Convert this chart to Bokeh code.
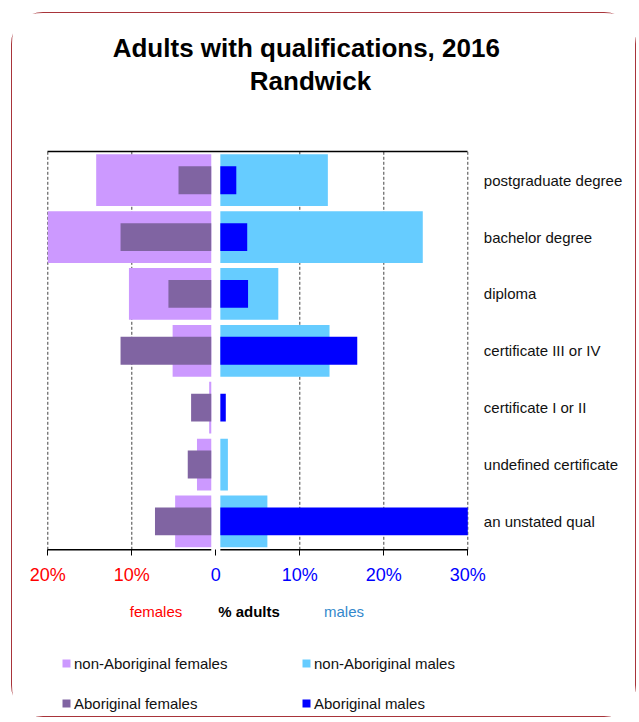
from bokeh.plotting import figure
from bokeh.models import (Range1d, LinearAxis, FixedTicker, Label,
                          ColumnDataSource, Legend, LegendItem)
from bokeh.embed import file_html
from bokeh.resources import INLINE

# ---- data (percent of adults) ----
categories = ["postgraduate degree", "bachelor degree", "diploma",
              "certificate III or IV", "certificate I or II",
              "undefined certificate", "an unstated qual"]
nonab_females = [13.7, 20.5, 9.8, 4.6, 0.25, 1.7, 4.3]
ab_females = [3.9, 10.8, 5.1, 10.8, 2.4, 2.8, 6.7]
nonab_males = [12.8, 24.1, 6.9, 13.0, 0.0, 0.9, 5.6]
ab_males = [1.9, 3.2, 3.3, 16.3, 0.65, 0.0, 31.0]

female_ticks = [-20, -10]
female_tick_labels = ["20%", "10%"]
male_ticks = [0, 10, 20, 30]
male_tick_labels = ["0", "10%", "20%", "30%"]
grid_values = [-20, -10, 10, 20, 30]
X_MIN, X_MAX = -20, 30

FONT = "Liberation Sans"
GAP = 0.54  # visual gap each side of zero
n = len(categories)
ypos = list(range(n))[::-1]

# ---- canvas geometry (pixels) ----
W, H = 625, 705
PX_PER_PCT = 8.4
CHART_LEFT = 35.3
ROW_PX = 56.86
CHART_TOP = 138.3
CHART_BOTTOM = 536.3
DY = H - 700  # shift for bottom-anchored screen positions
x0 = X_MIN - CHART_LEFT / PX_PER_PCT
y0 = -0.5 - (H - CHART_BOTTOM) / ROW_PX
y1 = (n - 0.5) + CHART_TOP / ROW_PX

p = figure(width=W, height=H,
           x_range=Range1d(x0, x0 + W / PX_PER_PCT), y_range=Range1d(y0, y1),
           output_backend="svg", toolbar_location=None,
           x_axis_location=None, y_axis_location=None,
           min_border=0,
           styles={"margin-left": "11px", "margin-top": "12px",
                   "border": "1px solid #A8343A", "border-radius": "32px"})
p.outline_line_color = None
p.xgrid.visible = False
p.ygrid.visible = False

# dashed vertical gridlines within the chart band
p.segment(x0=grid_values, y0=[-0.5] * len(grid_values),
          x1=grid_values, y1=[n - 0.5] * len(grid_values),
          line_color="#444444", line_dash="3 2", line_width=1)

src = ColumnDataSource(dict(
    y=ypos,
    nf_left=[max(-(v + GAP), X_MIN) for v in nonab_females],
    af_left=[-(v + GAP) for v in ab_females],
    f_right=[-GAP] * n,
    m_left=[GAP] * n,
    nm_right=[GAP + v for v in nonab_males],
    am_right=[min(GAP + v, X_MAX) for v in ab_males],
))

r_nf = p.hbar(y="y", left="nf_left", right="f_right", height=0.91,
              fill_color="#CC99FF", line_color=None, source=src)
r_nm = p.hbar(y="y", left="m_left", right="nm_right", height=0.91,
              fill_color="#66CCFF", line_color=None, source=src)
r_af = p.hbar(y="y", left="af_left", right="f_right", height=0.49,
              fill_color="#8064A2", line_color=None, source=src)
r_am = p.hbar(y="y", left="m_left", right="am_right", height=0.49,
              fill_color="#0000FF", line_color=None, source=src)

# broken bottom axis line
p.segment(x0=[X_MIN, GAP], y0=[-0.5, -0.5], x1=[-GAP, X_MAX], y1=[-0.5, -0.5],
          line_color="black", line_width=1.5)

# top line
top_axis = LinearAxis(ticker=FixedTicker(ticks=[]), fixed_location=n - 0.5,
                      bounds=(X_MIN, X_MAX), axis_line_color="black",
                      axis_line_width=1.5,
                      major_tick_line_color=None, minor_tick_line_color=None)
p.add_layout(top_axis, "above")

# bottom ticks + labels (red females side, blue males side)
for ticks, labels, color in [(female_ticks, female_tick_labels, "#FF0000"),
                             (male_ticks, male_tick_labels, "#0000FF")]:
    ax = LinearAxis(ticker=FixedTicker(ticks=ticks), fixed_location=-0.5,
                    bounds=(X_MIN, X_MAX),
                    major_label_overrides=dict(zip(ticks, labels)),
                    axis_line_color=None, major_tick_out=6, major_tick_in=0,
                    major_tick_line_color="black", minor_tick_line_color=None,
                    major_label_standoff=9,
                    major_label_text_font=FONT, major_label_text_font_size="18px",
                    major_label_text_color=color)
    p.add_layout(ax, "below")

# right category axis
right_axis = LinearAxis(ticker=FixedTicker(ticks=ypos), fixed_location=X_MAX,
                        major_label_overrides=dict(zip(ypos, categories)),
                        axis_line_color=None, major_tick_line_color=None,
                        major_tick_out=0, major_tick_in=0,
                        minor_tick_line_color=None, major_label_standoff=16,
                        major_label_text_font_size="15px",
                        major_label_text_font=FONT,
                        major_label_text_color="#111111")
p.add_layout(right_axis, "right")

# titles (screen units from canvas bottom-left)
p.add_layout(Label(x=293.8, y=666 + DY, x_units="screen", y_units="screen",
                   text="Adults with qualifications, 2016", text_align="center",
                   text_baseline="alphabetic", text_font=FONT,
                   text_font_size="26px", text_font_style="bold", text_color="black"))
p.add_layout(Label(x=298, y=633 + DY, x_units="screen", y_units="screen",
                   text="Randwick", text_align="center",
                   text_baseline="alphabetic", text_font=FONT,
                   text_font_size="26px", text_font_style="bold", text_color="black"))

# axis captions
for txt, xx, col, style in [("females", 143.5, "#FF0000", "normal"),
                            ("% adults", 236.5, "#000000", "bold"),
                            ("males", 331.5, "#3388CC", "normal")]:
    p.add_layout(Label(x=xx, y=102 + DY, x_units="screen", y_units="screen",
                       text=txt, text_align="center", text_baseline="alphabetic",
                       text_font=FONT, text_font_size="15px",
                       text_font_style=style, text_color=col))

legend = Legend(items=[
    LegendItem(label="non-Aboriginal females", renderers=[r_nf]),
    LegendItem(label="Aboriginal females", renderers=[r_af]),
    LegendItem(label="non-Aboriginal males", renderers=[r_nm]),
    LegendItem(label="Aboriginal males", renderers=[r_am]),
], location=(49, DY), orientation="vertical", ncols=2,
    glyph_width=10, glyph_height=10, label_standoff=3, label_width=207,
    label_height=20, spacing=20, padding=0, margin=0,
    border_line_color=None, background_fill_alpha=0,
    label_text_font=FONT, label_text_font_size="15px", label_text_color="#111111")
p.add_layout(legend)

open("out.html", "w").write(file_html(p, INLINE))
